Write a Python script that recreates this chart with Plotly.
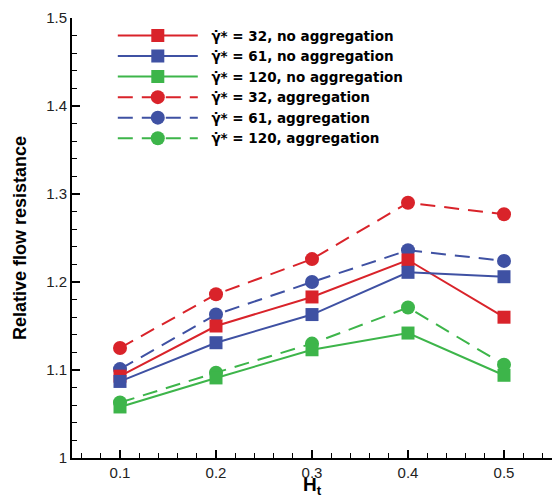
import plotly.graph_objects as go

ht = [0.1, 0.2, 0.3, 0.4, 0.5]
red_noagg = [1.093, 1.150, 1.183, 1.225, 1.160]
blue_noagg = [1.087, 1.131, 1.163, 1.211, 1.206]
green_noagg = [1.058, 1.091, 1.123, 1.142, 1.094]
red_agg = [1.125, 1.186, 1.226, 1.290, 1.277]
blue_agg = [1.101, 1.163, 1.200, 1.236, 1.224]
green_agg = [1.063, 1.097, 1.130, 1.171, 1.106]
x_ticks = ["0.1", "0.2", "0.3", "0.4", "0.5"]
y_tickvals = [1.0, 1.1, 1.2, 1.3, 1.4, 1.5]
y_ticks = ["1", "1.1", "1.2", "1.3", "1.4", "1.5"]

RED = "#d9232a"
BLUE = "#3f51a3"
GREEN = "#3db54a"
G = "γ\u0307*"

series = [
    (f"{G} = 32, no aggregation", red_noagg, RED, "solid", "square"),
    (f"{G} = 61, no aggregation", blue_noagg, BLUE, "solid", "square"),
    (f"{G} = 120, no aggregation", green_noagg, GREEN, "solid", "square"),
    (f"{G} = 32, aggregation", red_agg, RED, "15px,9px", "circle"),
    (f"{G} = 61, aggregation", blue_agg, BLUE, "15px,9px", "circle"),
    (f"{G} = 120, aggregation", green_agg, GREEN, "15px,9px", "circle"),
]

fig = go.Figure()
order = [3, 4, 5, 0, 1, 2]
for i in order:
    name, ys, col, dash, sym = series[i]
    fig.add_trace(go.Scatter(
        x=ht, y=ys, name="\u00a0\u00a0<b>" + name + "</b>", mode="lines+markers",
        line=dict(color=col, width=2, dash=dash),
        marker=dict(color=col, size=13 if sym == "square" else 14, symbol=sym),
        legendrank=i + 1,
    ))

axis_common = dict(
    showgrid=False, zeroline=False, showline=True, linecolor="black", linewidth=2,
    ticks="inside", ticklen=8, tickwidth=2, tickcolor="black",
    tickfont=dict(family="Liberation Sans, Arial", size=15, color="#222"),
    minor=dict(ticks="inside", ticklen=5, tickwidth=1, tickcolor="black", dtick=0.02),
)

fig.update_layout(
    width=552, height=498,
    margin=dict(l=72, r=0, t=18, b=40),
    plot_bgcolor="white", paper_bgcolor="white",
    font=dict(family="Liberation Sans, Arial", color="black"),
    xaxis=dict(range=[0.05, 0.55], tickvals=ht, ticktext=x_ticks,
               title=dict(text="<b>H<sub>t</sub></b>", font=dict(size=19), standoff=0),
               **axis_common),
    yaxis=dict(range=[1.0, 1.5], tickvals=y_tickvals, ticktext=y_ticks,
               title=dict(text="<b>Relative flow resistance</b>", font=dict(size=18), standoff=15),
               **axis_common),
    legend=dict(x=0.085, y=0.995, xanchor="left", yanchor="top",
                bgcolor="rgba(0,0,0,0)", itemwidth=80,
                font=dict(family="DejaVu Sans", size=13.5, color="black"),
                tracegroupgap=0, traceorder="normal"),
)

fig.write_html("out.html")
